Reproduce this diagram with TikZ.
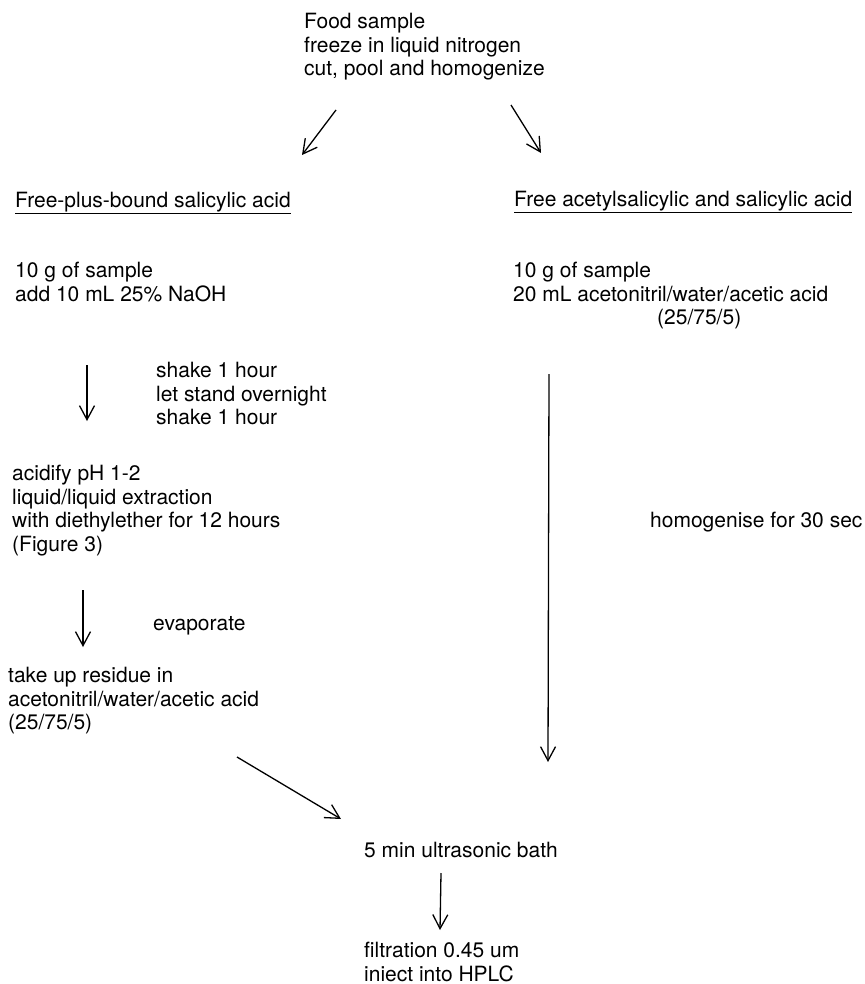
\documentclass[tikz,border=0pt]{standalone}
\usepackage{fontspec}
\setmainfont{TeX Gyre Heros}
\usetikzlibrary{arrows.meta, positioning}

\begin{document}
\begin{tikzpicture}[x=1pt, y=-1pt,
  txt/.style={anchor=north west, align=left, inner sep=0pt, font=\fontsize{21}{23.5}\selectfont},
  flow/.style={draw, line width=1.3pt, -{Straight Barb[length=14pt, width=15pt]}}]

\useasboundingbox (0,0) rectangle (864,984);

% texts
\node [txt] (food)      at (304,13)  {Food sample\\freeze in liquid nitrogen\\cut, pool and homogenize};
\node [txt] (boundhead) at (15,192)  {\underline{Free-plus-bound salicylic acid}};
\node [txt] (freehead)  at (514,191) {\underline{Free acetylsalicylic and salicylic acid}};
\node [txt] (sampleA)   at (15,262)  {10 g of sample\\add 10 mL 25\% NaOH};
\node [txt] (sampleB)   at (513,262) {10 g of sample\\20 mL acetonitril/water/acetic acid\\\hspace*{144pt}(25/75/5)};
\node [txt] (shake)     at (156,362) {shake 1 hour\\let stand overnight\\shake 1 hour};
\node [txt] (acidify)   at (12,465)  {acidify pH 1-2\\liquid/liquid extraction\\with diethylether for 12 hours\\(Figure 3)};
\node [txt] (evap)      at (153,616) {evaporate};
\node [txt] (residue)   at (8,667)   {take up residue in\\acetonitril/water/acetic acid\\(25/75/5)};
\node [txt] (homog)     at (650,512) {homogenise for 30 sec};
\node [txt] (bath)      at (364,842) {5 min ultrasonic bath};
\node [txt] (filt)      at (364,942) {filtration 0.45 um\\iniect into HPLC};

% arrow ends
\coordinate (splitL0) at (336,110);
\coordinate (splitL1) at (302,155);
\coordinate (splitR0) at (511,105);
\coordinate (splitR1) at (541,153);
\coordinate (stand0)  at (87,365);
\coordinate (stand1)  at (87,421);
\coordinate (evap0)   at (83,590);
\coordinate (evap1)   at (83,647);
\coordinate (homog0)  at (549,374);
\coordinate (homog1)  at (548,762);
\coordinate (join0)   at (237,757);
\coordinate (join1)   at (341,819);
\coordinate (bath0)   at (441,873);
\coordinate (bath1)   at (440,930);

\path [flow] (splitL0) -- (splitL1);
\path [flow] (splitR0) -- (splitR1);
\path [flow] (stand0) -- (stand1);
\path [flow] (evap0) -- (evap1);
\path [flow] (homog0) -- (homog1);
\path [flow] (join0) -- (join1);
\path [flow] (bath0) -- (bath1);

\end{tikzpicture}
\end{document}
